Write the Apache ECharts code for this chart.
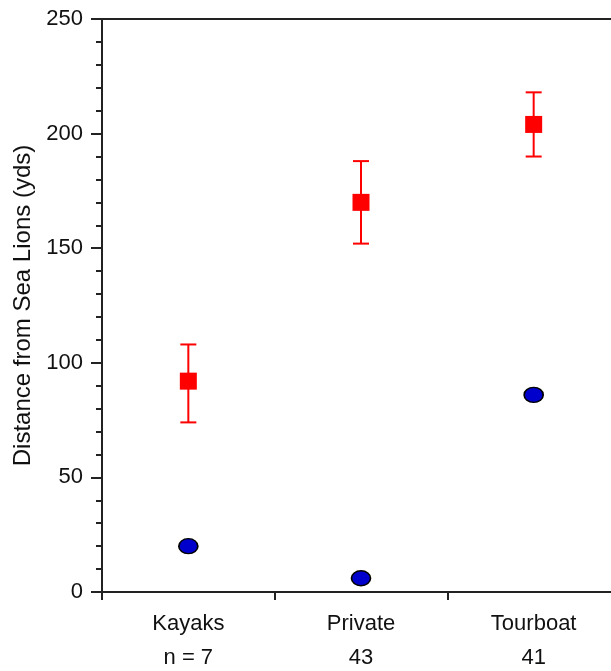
<!DOCTYPE html>
<html>
<head>
<meta charset="utf-8">
<script src="https://cdn.jsdelivr.net/npm/echarts@6/dist/echarts.min.js"></script>
<style>
html,body{margin:0;padding:0;background:#fff;}
#chart{width:611px;height:671px;}
</style>
</head>
<body>
<div id="chart"></div>
<script>
var categories = ['Kayaks', 'Private', 'Tourboat'];
var nLabels = ['n = 7', '43', '41'];
var redMeans = [92, 170, 204];
var redLower = [74, 152, 190];
var redUpper = [108, 188, 218];
var blueValues = [20, 6, 86];
var yTicks = [0, 50, 100, 150, 200, 250];

var chart = echarts.init(document.getElementById('chart'));
var font = 'Arial, "Liberation Sans", sans-serif';
var axisColor = '#222';

var errData = categories.map(function (c, i) { return [i, redLower[i], redUpper[i]]; });

var option = {
  animation: false,
  backgroundColor: '#fff',
  grid: { left: 102, top: 19, width: 518, height: 573, outerBoundsMode: 'none', containLabel: false },
  xAxis: [{
    type: 'category',
    data: categories,
    boundaryGap: true,
    axisLine: { show: true, lineStyle: { color: axisColor, width: 2 } },
    axisTick: { show: true, length: 8, inside: false, lineStyle: { color: axisColor, width: 2 } },
    axisLabel: {
      color: '#111', fontFamily: font, fontSize: 22, margin: 15, lineHeight: 34,
      formatter: function (v, i) { return v + '\n' + nLabels[i]; }
    },
    splitLine: { show: false }
  }, {
    type: 'category',
    data: categories,
    position: 'top',
    axisLine: { show: true, lineStyle: { color: axisColor, width: 2 } },
    axisTick: { show: false },
    axisLabel: { show: false }
  }],
  yAxis: {
    type: 'value',
    min: yTicks[0],
    max: yTicks[yTicks.length - 1],
    interval: 50,
    name: 'Distance from Sea Lions (yds)',
    nameLocation: 'middle',
    nameGap: 58,
    nameRotate: 90,
    nameTextStyle: { color: '#111', fontFamily: font, fontSize: 24 },
    axisLine: { show: true, lineStyle: { color: axisColor, width: 2 } },
    axisTick: { show: true, length: 11, lineStyle: { color: axisColor, width: 2 } },
    minorTick: { show: true, splitNumber: 5, length: 6, lineStyle: { color: axisColor, width: 2 } },
    axisLabel: { color: '#111', fontFamily: font, fontSize: 22, margin: 19 },
    splitLine: { show: false }
  },
  series: [{
    type: 'custom',
    z: 1,
    data: errData,
    renderItem: function (params, api) {
      var x = api.value(0);
      var lo = api.coord([x, api.value(1)]);
      var hi = api.coord([x, api.value(2)]);
      var half = 8;
      var style = { stroke: '#ff0000', lineWidth: 2 };
      return {
        type: 'group',
        children: [
          { type: 'line', shape: { x1: lo[0], y1: lo[1], x2: hi[0], y2: hi[1] }, style: style },
          { type: 'line', shape: { x1: lo[0] - half, y1: lo[1], x2: lo[0] + half, y2: lo[1] }, style: style },
          { type: 'line', shape: { x1: hi[0] - half, y1: hi[1], x2: hi[0] + half, y2: hi[1] }, style: style }
        ]
      };
    }
  }, {
    type: 'scatter',
    z: 3,
    data: redMeans,
    symbol: 'rect',
    symbolSize: 17,
    itemStyle: { color: '#ff0000', opacity: 1 }
  }, {
    type: 'scatter',
    z: 3,
    data: blueValues,
    symbol: 'circle',
    symbolSize: [19, 15],
    itemStyle: { color: '#0000cc', borderColor: '#000', borderWidth: 1.5, opacity: 1 }
  }]
};
chart.setOption(option);
</script>
</body>
</html>
